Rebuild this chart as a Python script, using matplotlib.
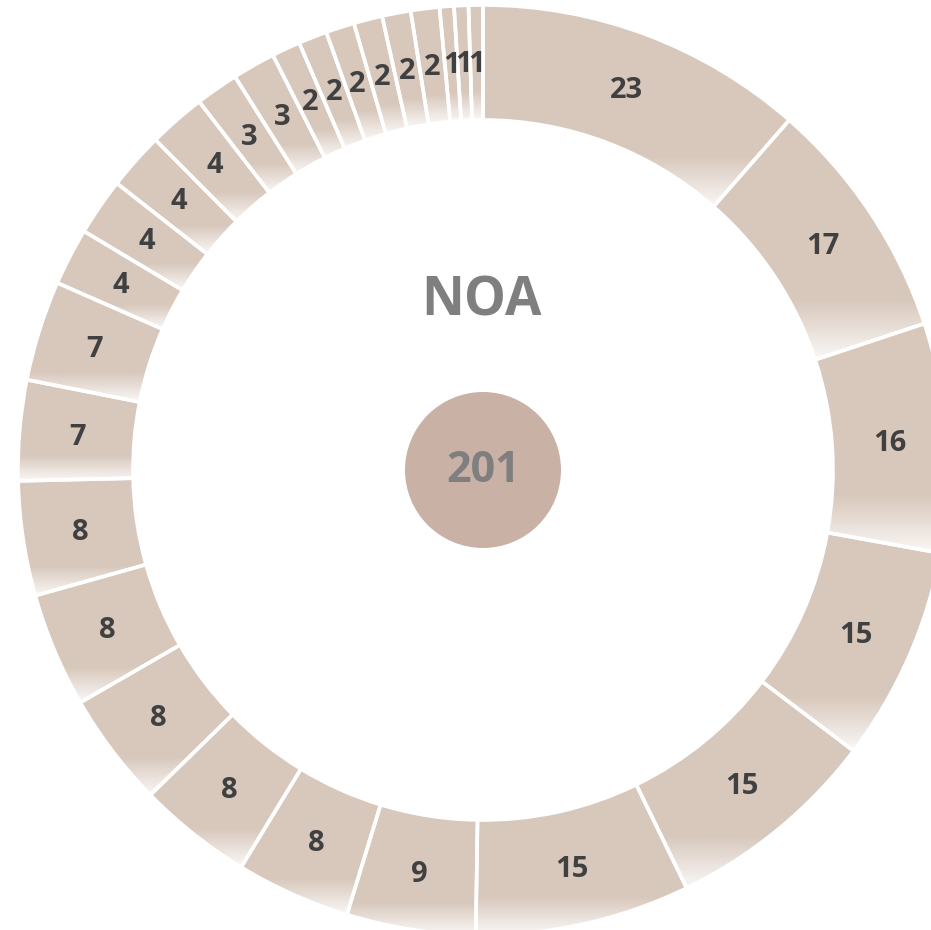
import numpy as np
from matplotlib import pyplot as plt
from matplotlib.patches import Wedge, Circle
from matplotlib.colors import to_rgb

# segment values, clockwise from 12 o'clock
values = [23, 17, 16, 15, 15, 15, 9, 8, 8, 8, 8, 8, 7, 7, 4, 4, 4, 4, 3, 3,
          2, 2, 2, 2, 2, 2, 1, 1, 1]
labels = [str(v) for v in values]
title = "NOA"
total_label = str(sum(values))

ring_color = "#D8C8BC"
hub_color = "#C9B1A6"
label_color = "#404040"
grey_text = "#7F7F7F"

W, H = 931, 930
cx, cy = 483, H - 470
r_out, r_in = 465, 350
hub_r = 78

plt.rcParams['font.family'] = ['Open Sans', 'DejaVu Sans']

fig = plt.figure(figsize=(W / 100, H / 100), dpi=100)
ax = fig.add_axes([0, 0, 1, 1])
ax.set_xlim(0, W)
ax.set_ylim(0, H)
ax.set_aspect('equal')
ax.axis('off')


def gradient_image(color):
    # vertical fade: solid on top, white-ish at the bottom of the bbox
    base = np.array(to_rgb(color))
    white = np.array([0.98, 0.97, 0.965])
    t = np.linspace(0, 1, 200)  # 0 = bottom, 1 = top
    mix = np.clip(t / 0.25, 0, 1)[:, None]
    rows = white * (1 - mix) + base * mix
    return np.repeat(rows[:, None, :], 2, axis=1)


total = sum(values)
start = 0.0
for val, lab in zip(values, labels):
    a0 = start / total * 360
    a1 = (start + val) / total * 360
    start += val
    theta1, theta2 = 90 - a1, 90 - a0

    wedge = Wedge((cx, cy), r_out, theta1, theta2, width=r_out - r_in,
                  facecolor='none', edgecolor='none')
    ax.add_patch(wedge)
    ext = wedge.get_path().get_extents()
    img = ax.imshow(gradient_image(ring_color), origin='lower', aspect='auto',
                    extent=(ext.x0, ext.x1, ext.y0, ext.y1), interpolation='bilinear', zorder=1)
    img.set_clip_path(wedge)

    ax.add_patch(Wedge((cx, cy), r_out, theta1, theta2, width=r_out - r_in,
                       facecolor='none', edgecolor='white', linewidth=2.6, zorder=2))

    mid = np.deg2rad((theta1 + theta2) / 2)
    r_lab = (r_out + r_in) / 2
    ax.text(cx + r_lab * np.cos(mid), cy + r_lab * np.sin(mid) - 2, lab,
            ha='center', va='center', fontsize=21, fontweight='bold', color=label_color, zorder=3)

ax.add_patch(Circle((cx, cy), hub_r, facecolor=hub_color, edgecolor='none', zorder=2))
ax.text(cx, cy, total_label, ha='center', va='center', fontsize=31,
        fontweight='bold', color=grey_text, zorder=3)
ax.text(cx - 2, H - 302, title, ha='center', va='center', fontsize=38,
        fontweight='bold', color=grey_text, zorder=3)

ax.set_xlim(0, W)
ax.set_ylim(0, H)
fig.savefig("out.png", dpi=100)
